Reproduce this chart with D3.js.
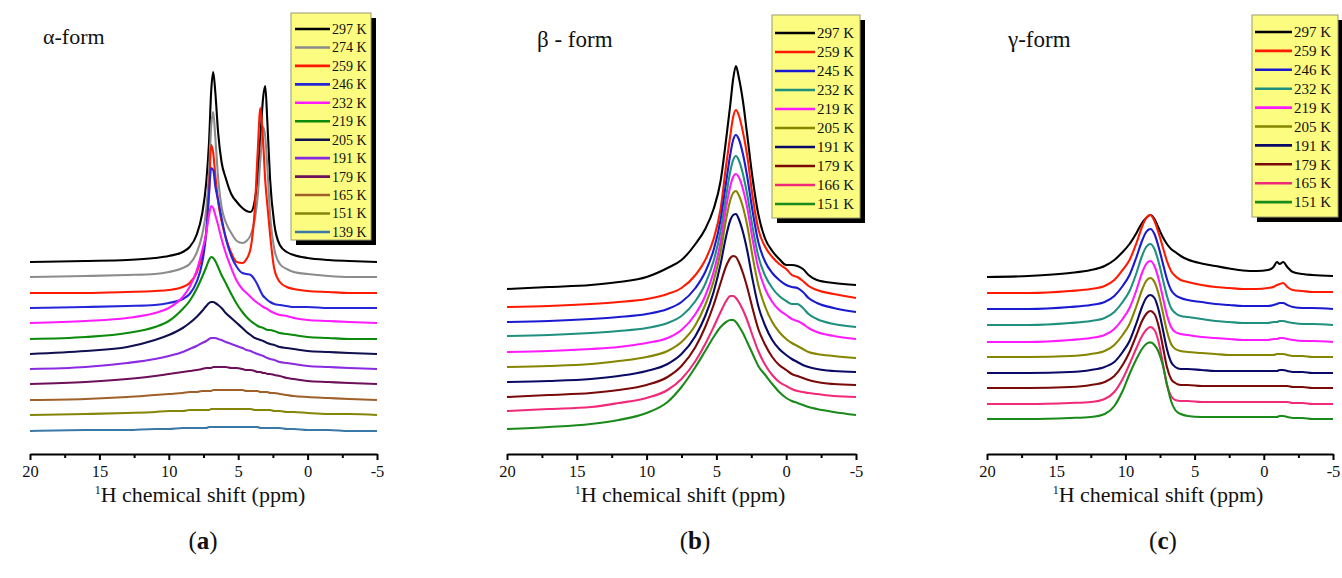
<!DOCTYPE html>
<html>
<head>
<meta charset="utf-8">
<script src="https://cdn.jsdelivr.net/npm/d3@7"></script>
<style>
  html, body { margin: 0; padding: 0; background: #fff; }
  svg { display: block; }
  text { font-family: "Liberation Serif", "DejaVu Serif", serif; fill: #111; }
</style>
</head>
<body>
<script>
// ---------------------------------------------------------------
// Variable-temperature 1H NMR spectra of the alpha, beta and gamma forms.
// Intensities are in arbitrary units; each trace is lifted by its stack offset.
// ---------------------------------------------------------------

// Common axis ticks (ppm)
const majorTicks = [20, 15, 10, 5, 0, -5];
const minorTicks = [17.5, 12.5, 7.5, 2.5, -2.5];

// ---------------- alpha form ----------------
const shiftA = [20, 16, 13, 11, 10, 9, 8.5, 8, 7.6, 7.3, 7.1, 6.95, 6.8, 6.65, 6.45, 6.2, 5.9, 5.5, 5.1, 4.7, 4.4, 4.1, 3.8, 3.6, 3.4, 3.2, 3.05, 2.9, 2.7, 2.4, 2.0, 1.5, 1.0, 0, -1.5, -3, -5];
const tempsA = ["297 K", "274 K", "259 K", "246 K", "232 K", "219 K", "205 K", "191 K", "179 K", "165 K", "151 K", "139 K"];
const colorsA = ["#000000", "#8c8c8c", "#ff1a00", "#2626d9", "#ff1aff", "#0c8a0c", "#101050", "#8a2be2", "#6e0f5a", "#a0602a", "#85850a", "#3a78a8"];
const offsetsA = [192, 177, 161, 146, 131, 115, 100, 85, 70, 54, 39, 23];

const alpha297 = [0, 1, 2, 4, 6, 10, 15, 27, 48, 80, 120, 170, 190, 170, 130, 100, 84, 68, 60, 54, 51, 50, 62, 85, 125, 165, 176, 140, 82, 38, 17, 10, 7, 4, 2, 1, 0];
const alpha274 = [0, 1, 2, 3, 5, 9, 13, 24, 42, 68, 105, 150, 165, 140, 100, 70, 55, 44, 36, 34, 36, 42, 58, 80, 118, 150, 140, 110, 62, 28, 13, 8, 5, 3, 1, 0, 0];
const alpha259 = [0, 0, 1, 2, 3, 6, 10, 20, 38, 62, 100, 148, 140, 118, 92, 72, 56, 40, 31, 30, 34, 45, 85, 140, 185, 150, 112, 88, 58, 24, 11, 6, 4, 2, 1, 0, 0];
const alpha246 = [0, 1, 2, 3, 5, 9, 14, 26, 45, 75, 115, 140, 138, 122, 108, 90, 70, 52, 41, 35, 34, 33, 28, 23, 17, 12, 10, 8, 6, 4, 3, 2, 1, 1, 0, 0, 0];
const alpha232 = [0, 2, 5, 10, 15, 26, 36, 52, 72, 90, 108, 117, 115, 108, 98, 84, 70, 55, 42, 34, 30, 26, 22, 20, 18, 16, 15, 14, 12, 10, 8, 7, 5, 3, 2, 1, 0];
const alpha219 = [0, 2, 6, 12, 18, 30, 38, 50, 62, 72, 79, 82, 81, 78, 72, 64, 56, 45, 35, 27, 22, 18, 15, 13, 12, 11, 10, 9, 9, 8, 6, 5, 4, 2, 1, 0, 0];
const alpha205 = [0, 3, 7, 14, 19, 26, 31, 37, 43, 48, 51, 52, 52, 51, 49, 46, 41, 36, 31, 26, 22, 19, 16, 15, 14, 13, 12, 11, 10, 9, 7, 6, 5, 3, 2, 1, 0];
const alpha191 = [0, 2, 6, 10, 13, 17, 20, 23, 26, 28, 30, 31, 31, 31, 30, 29, 27, 25, 23, 21, 19, 18, 16, 15, 14, 13, 12, 11, 10, 9, 7, 6, 5, 3, 2, 1, 0];
const alpha179 = [0, 2, 5, 8, 10, 12, 13, 14, 15, 16, 16, 16, 17, 17, 17, 17, 17, 16, 16, 15, 14, 14, 13, 12, 12, 11, 11, 10, 10, 9, 8, 6, 5, 3, 2, 1, 0];
const alpha165 = [0, 1, 3, 5, 6, 7, 8, 8, 9, 9, 9, 9, 10, 10, 10, 10, 10, 10, 10, 10, 9, 9, 9, 9, 8, 8, 8, 8, 7, 7, 6, 5, 4, 3, 2, 1, 0];
const alpha151 = [0, 1, 2, 3, 4, 4, 5, 5, 5, 5, 5, 6, 6, 6, 6, 6, 6, 6, 6, 6, 6, 6, 5, 5, 5, 5, 5, 5, 5, 4, 4, 3, 3, 2, 1, 1, 0];
const alpha139 = [0, 1, 1, 2, 2, 3, 3, 3, 3, 3, 4, 4, 4, 4, 4, 4, 4, 4, 4, 4, 4, 4, 4, 4, 3, 3, 3, 3, 3, 3, 3, 2, 2, 1, 1, 0, 0];
const seriesA = [alpha297, alpha274, alpha259, alpha246, alpha232, alpha219, alpha205, alpha191, alpha179, alpha165, alpha151, alpha139];

// ---------------- beta form ----------------
const shiftB = [20, 17, 14, 12, 10, 8.5, 7.5, 6.5, 5.8, 5.2, 4.7, 4.3, 4.0, 3.8, 3.6, 3.4, 3.1, 2.8, 2.4, 2.0, 1.5, 1.0, 0.5, 0, -0.4, -0.8, -1.2, -1.6, -2.2, -3.4, -5];
const tempsB = ["297 K", "259 K", "245 K", "232 K", "219 K", "205 K", "191 K", "179 K", "166 K", "151 K"];
const colorsB = ["#000000", "#ff1a00", "#1a1ad0", "#1f8f7f", "#ff1aff", "#858500", "#0a0a66", "#7a0a0a", "#f02a78", "#1a8a1a"];
const offsetsB = [165, 147, 132, 118, 102, 87, 72, 57, 43, 25];

const beta297 = [0, 2, 4, 7, 12, 21, 29, 45, 60, 80, 108, 150, 185, 210, 223, 212, 188, 155, 110, 75, 50, 38, 30, 24, 24, 23, 20, 14, 9, 6, 4];
const beta259 = [0, 1, 3, 5, 8, 13, 19, 32, 47, 68, 98, 142, 172, 190, 197, 192, 175, 152, 110, 78, 60, 50, 43, 38, 32, 30, 26, 21, 17, 13, 9];
const beta245 = [0, 1, 3, 5, 8, 13, 20, 34, 50, 72, 102, 140, 168, 182, 187, 183, 168, 146, 110, 80, 60, 49, 42, 37, 35, 34, 30, 24, 19, 14, 10];
const beta232 = [0, 1, 3, 5, 8, 13, 20, 35, 52, 75, 105, 140, 165, 176, 180, 176, 162, 142, 108, 80, 60, 48, 40, 35, 32, 32, 28, 22, 17, 12, 9];
const beta219 = [0, 1, 3, 5, 9, 14, 22, 38, 56, 80, 110, 145, 166, 175, 178, 175, 163, 145, 112, 84, 63, 50, 42, 37, 33, 31, 28, 24, 20, 16, 13];
const beta205 = [0, 1, 3, 6, 10, 16, 25, 42, 62, 86, 115, 148, 167, 174, 176, 172, 160, 142, 110, 82, 60, 45, 35, 28, 24, 21, 18, 15, 13, 11, 9];
const beta191 = [0, 1, 3, 6, 11, 18, 28, 46, 66, 90, 118, 146, 162, 167, 168, 163, 150, 132, 102, 76, 56, 42, 33, 27, 23, 20, 17, 15, 13, 11, 10];
const beta179 = [0, 2, 4, 7, 12, 20, 31, 50, 70, 92, 114, 131, 139, 141, 140, 135, 124, 110, 88, 68, 52, 40, 32, 27, 23, 21, 19, 17, 15, 13, 12];
const beta166 = [0, 2, 4, 8, 13, 21, 32, 50, 67, 84, 99, 110, 115, 115, 113, 109, 101, 91, 75, 60, 46, 36, 29, 25, 22, 20, 19, 18, 17, 15, 14];
const beta151 = [0, 2, 5, 9, 16, 27, 42, 62, 78, 92, 102, 107, 109, 109, 107, 103, 96, 87, 75, 63, 54, 45, 37, 31, 28, 26, 24, 22, 20, 17, 14];
const seriesB = [beta297, beta259, beta245, beta232, beta219, beta205, beta191, beta179, beta166, beta151];

// ---------------- gamma form ----------------
const shiftC = [20, 17, 14, 12.5, 11.5, 10.8, 10.2, 9.7, 9.2, 8.8, 8.5, 8.2, 7.9, 7.6, 7.3, 7.0, 6.7, 6.4, 6.0, 5.5, 4.5, 3.5, 2.5, 1.5, 0.5, -0.3, -0.7, -0.95, -1.15, -1.4, -1.7, -2.1, -2.8, -3.5, -5];
const tempsC = ["297 K", "259 K", "246 K", "232 K", "219 K", "205 K", "191 K", "179 K", "165 K", "151 K"];
const colorsC = ["#000000", "#ff1a00", "#1a1ad0", "#1f8f7f", "#ff1aff", "#858500", "#0a0a66", "#7a0a0a", "#f02a78", "#1a8a1a"];
const offsetsC = [177, 161, 145, 129, 112, 97, 81, 66, 50, 35];

const gamma297 = [0, 1, 4, 7, 11, 17, 25, 33, 44, 54, 59, 62, 58, 49, 40, 33, 28, 25, 21, 17.5, 13.5, 11, 8.5, 6.5, 6, 7, 10, 15, 13, 15, 10, 5, 3, 2, 1];
const gamma259 = [0, 0, 2, 4, 7, 13, 23, 33, 50, 66, 75, 78, 72, 60, 46, 32, 22, 17, 13, 11, 8, 6, 5, 4, 4, 5, 6, 8, 9, 10, 6, 3, 2, 1, 1];
const gamma246 = [0, 0, 2, 4, 7, 13, 23, 34, 52, 68, 77, 80, 75, 62, 46, 30, 19, 14, 11, 9, 7, 5, 4, 3, 3, 3, 4, 5, 6, 6, 4, 2, 1, 1, 0];
const gamma232 = [0, 0, 2, 4, 7, 13, 23, 34, 52, 69, 78, 81, 76, 63, 46, 29, 17, 12, 9, 8, 6, 4, 3, 2, 2, 2, 3, 3, 4, 4, 3, 2, 1, 1, 0];
const gamma219 = [0, 0, 2, 4, 7, 13, 23, 34, 52, 69, 78, 81, 76, 63, 45, 27, 15, 10, 8, 7, 5, 4, 3, 2, 2, 2, 3, 3, 4, 4, 3, 2, 1, 1, 0];
const gamma205 = [0, 0, 1, 3, 6, 12, 22, 33, 51, 67, 76, 79, 75, 63, 45, 26, 13, 8, 6, 5, 4, 3, 2, 2, 2, 2, 2, 3, 3, 3, 2, 1, 1, 0, 0];
const gamma191 = [0, 0, 1, 3, 6, 11, 21, 32, 50, 66, 75, 78, 75, 63, 44, 24, 11, 6, 4, 4, 3, 2, 2, 2, 2, 2, 2, 2, 3, 3, 2, 1, 1, 0, 0];
const gamma179 = [0, 0, 1, 3, 6, 12, 23, 36, 53, 67, 74, 77, 74, 62, 42, 21, 9, 5, 3, 3, 2, 2, 2, 2, 2, 2, 2, 2, 2, 2, 2, 1, 1, 0, 0];
const gamma165 = [0, 0, 1, 2, 5, 12, 25, 40, 56, 68, 74, 77, 74, 62, 41, 19, 8, 4, 3, 3, 2, 2, 2, 2, 2, 2, 2, 2, 2, 2, 2, 1, 1, 0, 0];
const gamma151 = [0, 0, 1, 2, 5, 13, 28, 45, 60, 70, 75, 76.6, 74, 67, 54, 35, 18, 9, 5, 3, 2, 2, 2, 2, 2, 2, 2, 2, 3, 3, 2, 1, 1, 0, 0];
const seriesC = [gamma297, gamma259, gamma246, gamma232, gamma219, gamma205, gamma191, gamma179, gamma165, gamma151];

// ---------------------------------------------------------------
// Layout
// ---------------------------------------------------------------
const W = 1342, H = 578;
const axisY = 454;

const panels = [
  { title: "α-form", tag: "a", shift: shiftA, series: seriesA, temps: tempsA, colors: colorsA, offsets: offsetsA,
    left: 30, right: 377, titleX: 43, titleY: 44, titleSize: 22,
    legend: { x: 291, y: 13, w: 80, h: 227, row0: 29, step: 18.45, lx0: 295, lx1: 330, tx: 332, fs: 14 },
    xTitle: 200, tagX: 203 },
  { title: "β - form", tag: "b", shift: shiftB, series: seriesB, temps: tempsB, colors: colorsB, offsets: offsetsB,
    left: 507, right: 856, titleX: 537, titleY: 47, titleSize: 23,
    legend: { x: 772, y: 15, w: 88, h: 203, row0: 33, step: 19, lx0: 775, lx1: 815, tx: 817, fs: 15 },
    xTitle: 680, tagX: 695 },
  { title: "γ-form", tag: "c", shift: shiftC, series: seriesC, temps: tempsC, colors: colorsC, offsets: offsetsC,
    left: 987, right: 1333, titleX: 1008, titleY: 47, titleSize: 23,
    legend: { x: 1252, y: 15, w: 86, h: 202, row0: 32, step: 18.9, lx0: 1255, lx1: 1292, tx: 1294, fs: 15 },
    xTitle: 1158, tagX: 1163 }
];

const svg = d3.select("body").append("svg")
  .attr("width", W).attr("height", H)
  .attr("viewBox", `0 0 ${W} ${H}`);

svg.append("rect").attr("width", W).attr("height", H).attr("fill", "#fff");

// intensity (a.u.) -> vertical position, shared by all panels
const y = d3.scaleLinear().domain([0, 440]).range([axisY, axisY - 440]);

panels.forEach(p => {
  const g = svg.append("g").attr("class", "panel-" + p.tag);
  const x = d3.scaleLinear().domain([20, -5]).range([p.left, p.right]);

  // stacked spectra
  const line = d3.line()
    .x(d => x(d[0]))
    .y(d => y(d[1]))
    .curve(d3.curveMonotoneX);

  g.append("g").attr("class", "traces")
    .selectAll("path")
    .data(p.series.map((vals, i) => ({
      color: p.colors[i],
      pts: p.shift.map((s, j) => [s, p.offsets[i] + vals[j]])
    })))
    .join("path")
    .attr("d", d => line(d.pts))
    .attr("fill", "none")
    .attr("stroke", d => d.color)
    .attr("stroke-width", 2.1)
    .attr("stroke-linejoin", "round");

  // x axis with major and minor ticks
  const major = d3.axisBottom(x)
    .tickValues(majorTicks)
    .tickSize(6)
    .tickSizeOuter(0)
    .tickPadding(5)
    .tickFormat(d => String(d));
  const minor = d3.axisBottom(x)
    .tickValues(minorTicks)
    .tickSize(4)
    .tickSizeOuter(0)
    .tickFormat("");

  const ax = g.append("g").attr("transform", `translate(0,${axisY})`).call(major);
  ax.select(".domain").attr("stroke", "#000").attr("stroke-width", 2.2);
  ax.selectAll(".tick line").attr("stroke", "#000").attr("stroke-width", 2);
  ax.selectAll(".tick text")
    .style("font-family", '"Liberation Serif", serif')
    .style("font-size", "16.5px")
    .attr("fill", "#222");
  const axm = g.append("g").attr("transform", `translate(0,${axisY})`).call(minor);
  axm.select(".domain").remove();
  axm.selectAll(".tick line").attr("stroke", "#000").attr("stroke-width", 2);

  // axis title
  const t = g.append("text")
    .attr("x", p.xTitle).attr("y", 502)
    .attr("text-anchor", "middle")
    .style("font-size", "22px");
  t.append("tspan").attr("dy", "-8").style("font-size", "12px").text("1");
  t.append("tspan").attr("dy", "8").text("H chemical shift (ppm)");

  // sub-figure tag
  const tag = g.append("text")
    .attr("x", p.tagX).attr("y", 549)
    .attr("text-anchor", "middle")
    .style("font-size", "25px");
  tag.append("tspan").text("(");
  tag.append("tspan").style("font-weight", "bold").text(p.tag);
  tag.append("tspan").text(")");

  // panel title
  g.append("text")
    .attr("x", p.titleX).attr("y", p.titleY)
    .style("font-size", p.titleSize + "px")
    .text(p.title);

  // legend with drop shadow
  const L = p.legend;
  const lg = g.append("g").attr("class", "legend");
  lg.append("rect")
    .attr("x", L.x + 5).attr("y", L.y + 5)
    .attr("width", L.w).attr("height", L.h)
    .attr("fill", "#000");
  lg.append("rect")
    .attr("x", L.x).attr("y", L.y)
    .attr("width", L.w).attr("height", L.h)
    .attr("fill", "#fcfc80")
    .attr("stroke", "#9a9a70").attr("stroke-width", 1);

  const rows = lg.selectAll("g.row")
    .data(p.temps.map((t, i) => ({ t, c: p.colors[i], i })))
    .join("g").attr("class", "row")
    .attr("transform", d => `translate(0,${L.row0 + d.i * L.step})`);
  rows.append("line")
    .attr("x1", L.lx0).attr("x2", L.lx1)
    .attr("y1", 0).attr("y2", 0)
    .attr("stroke", d => d.c).attr("stroke-width", 2.6);
  rows.append("text")
    .attr("x", L.tx).attr("y", 0)
    .attr("dy", "0.35em")
    .style("font-size", L.fs + "px")
    .text(d => d.t);
});
</script>
</body>
</html>
